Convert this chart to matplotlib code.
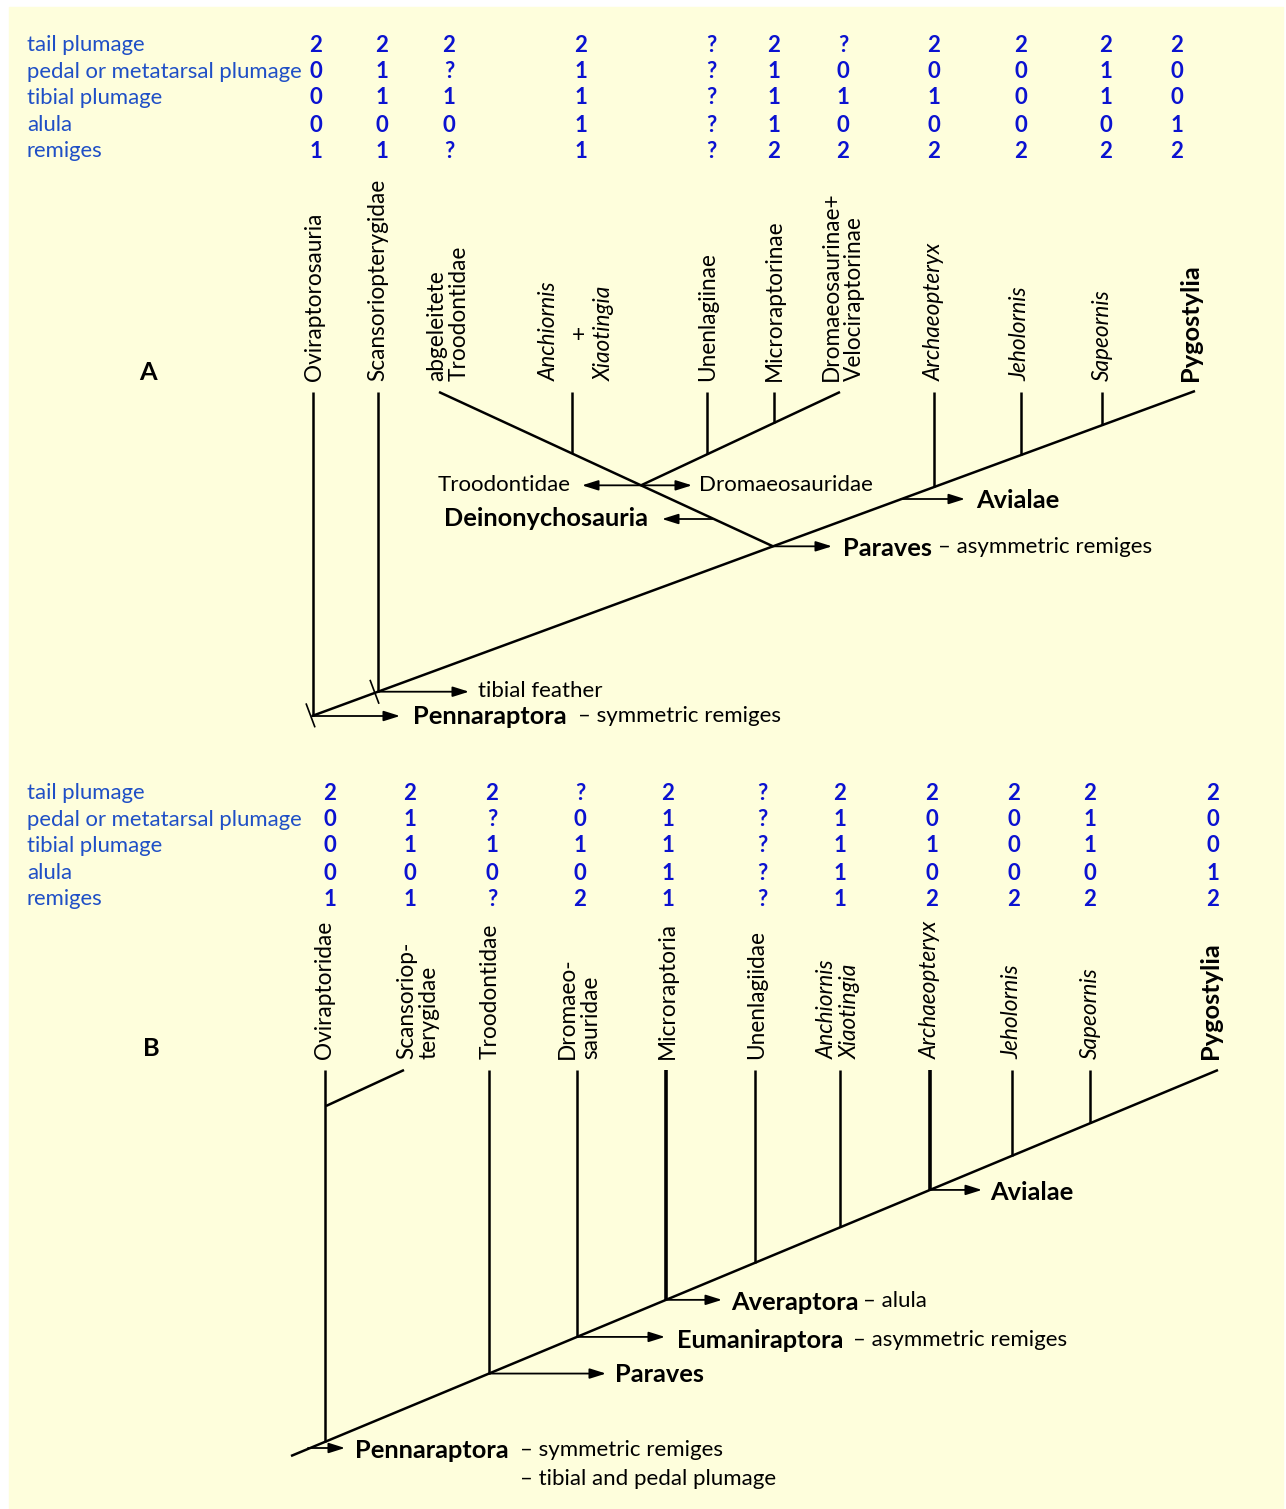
import matplotlib.pyplot as plt
from matplotlib.patches import Rectangle

plt.rcParams['font.family'] = ['Lato', 'DejaVu Sans']

chars = ['tail plumage', 'pedal or metatarsal plumage', 'tibial plumage', 'alula', 'remiges']

# panel A: coded states per terminal, one string per column (tail, pedal, tibial, alula, remiges)
states_a = ['20001', '21101', '2?10?', '21111', '?????', '21112',
            '?0102', '20102', '20002', '21102', '20012']
# panel B
states_b = ['20001', '21101', '2?10?', '?0102', '21111', '?????',
            '21111', '20102', '20002', '21102', '20012']

taxa_a = ['Oviraptorosauria', 'Scansoriopterygidae', 'abgeleitete\nTroodontidae',
          'Unenlagiinae', 'Microraptorinae', 'Dromaeosaurinae+\nVelociraptorinae',
          'Archaeopteryx', 'Jeholornis', 'Sapeornis', 'Pygostylia']
taxa_b = ['Oviraptoridae', 'Scansoriop-\nterygidae', 'Troodontidae', 'Dromaeo-\nsauridae',
          'Microraptoria', 'Unenlagiidae', 'Anchiornis\nXiaotingia', 'Archaeopteryx',
          'Jeholornis', 'Sapeornis', 'Pygostylia']
italic = {'Anchiornis', 'Xiaotingia', 'Archaeopteryx', 'Jeholornis', 'Sapeornis',
          'Anchiornis\nXiaotingia'}

# layout (pixels)
rows_a = [45, 72, 98, 125, 151]
rows_b = [793, 820, 846, 873, 899]
cols_a = [316, 382, 449, 581, 711, 774, 843, 934, 1021, 1106, 1177]
cols_b = [330, 410, 492, 580, 668, 762, 840, 932, 1014, 1090, 1213]
lab_x_a = [315, 378, 448, 708, 774, 843, 934, 1020, 1102, 1190]
lab_x_b = [325, 418, 490, 579, 667, 757, 839, 930, 1012, 1090, 1210]

LBL = '#1f4fc6'
NUM = '#0b12d0'
LW = 1.8
FT = 16.3     # taxon names
FS = 16.0     # plain text
FB = 18.3     # bold clade names


def y_at(p, q, x):
    return p[1] + (q[1] - p[1]) * (x - p[0]) / (q[0] - p[0])


def x_at(p, q, y):
    return p[0] + (q[0] - p[0]) * (y - p[1]) / (q[1] - p[1])


def line(ax, p, q, lw=LW):
    ax.plot([p[0], q[0]], [p[1], q[1]], color='black', lw=lw, solid_capstyle='butt')


def arrow(ax, p, x_end):
    ax.annotate('', xy=(x_end, p[1]), xytext=p,
                arrowprops=dict(arrowstyle='-|>,head_length=0.7,head_width=0.22',
                                color='black', lw=1.3, shrinkA=0, shrinkB=0,
                                mutation_scale=14))


def matrix(ax, rows, cols, states):
    for i, c in enumerate(chars):
        ax.text(27, rows[i], c, color=LBL, fontsize=15.9, va='center', ha='left')
        for j, s in enumerate(states):
            ax.text(cols[j], rows[i], s[i], color=NUM, fontsize=16, fontweight='bold',
                    va='center', ha='center')


def vlabel(ax, x, y, name, **kw):
    style = 'italic' if name in italic else 'normal'
    ax.text(x, y, name, rotation=90, ha='center', va='bottom', fontsize=FT,
            style=style, multialignment='left', linespacing=1.1, **kw)


fig = plt.figure(figsize=(12.86, 15.09), dpi=100)
ax = fig.add_axes([0, 0, 1, 1])
ax.set_xlim(0, 1286)
ax.set_ylim(1509, 0)
ax.axis('off')
ax.add_patch(Rectangle((9, 7), 1274, 1502, color='#fefedc', zorder=0))

# ---------------- A ----------------
matrix(ax, rows_a, cols_a, states_a)
ax.text(148, 372, 'A', fontsize=FB, fontweight='bold', ha='center', va='center')

for x, name in zip(lab_x_a, taxa_a):
    if name == 'Pygostylia':
        ax.text(x, 381, name, rotation=90, ha='center', va='bottom', fontsize=FB,
                fontweight='bold')
    else:
        vlabel(ax, x, 381, name)
ax.text(549, 381, 'Anchiornis', rotation=90, ha='center', va='bottom', fontsize=FT, style='italic')
ax.text(578, 335, '+', ha='center', va='center', fontsize=FT)
ax.text(604, 381, 'Xiaotingia', rotation=90, ha='center', va='bottom', fontsize=FT, style='italic')

top = 392
root_a = (312, 716)
end_a = (1195, 391)
line(ax, root_a, end_a)
for x in [313, 378, 934, 1021, 1102]:
    line(ax, (x, top), (x, y_at(root_a, end_a, x)))

paraves_a = (773, y_at(root_a, end_a, 773))
troo_end = (439, top)
line(ax, paraves_a, troo_end)
deino = (641, y_at(paraves_a, troo_end, 641))
dromo_end = (840, top)
line(ax, deino, dromo_end)
line(ax, (572, top), (572, y_at(paraves_a, troo_end, 572)))
for x in [707, 774]:
    line(ax, (x, top), (x, y_at(deino, dromo_end, x)))

# character ticks across the stem
for x in [311, 375]:
    y = y_at(root_a, end_a, x)
    line(ax, (x - 5, y - 13), (x + 4, y + 11), lw=1.2)

arrow(ax, deino, 582)
ax.text(571, deino[1], 'Troodontidae', ha='right', va='center', fontsize=FS)
arrow(ax, deino, 692)
ax.text(699, deino[1], 'Dromaeosauridae', ha='left', va='center', fontsize=FS)
arrow(ax, (x_at(paraves_a, troo_end, 519), 519), 662)
ax.text(648, 519, 'Deinonychosauria', ha='right', va='center', fontsize=FB, fontweight='bold')
arrow(ax, (x_at(root_a, end_a, 499), 499), 965)
ax.text(976, 501, 'Avialae', ha='left', va='center', fontsize=FB, fontweight='bold')
arrow(ax, paraves_a, 832)
ax.text(843, 548, 'Paraves', ha='left', va='center', fontsize=FB, fontweight='bold')
ax.text(938, 547, '– asymmetric remiges', ha='left', va='center', fontsize=FS)
arrow(ax, (378, y_at(root_a, end_a, 378)), 469)
ax.text(478, 691, 'tibial feather', ha='left', va='center', fontsize=FS)
arrow(ax, root_a, 400)
ax.text(413, 717, 'Pennaraptora', ha='left', va='center', fontsize=FB, fontweight='bold')
ax.text(578, 716, '– symmetric remiges', ha='left', va='center', fontsize=FS)

# ---------------- B ----------------
matrix(ax, rows_b, cols_b, states_b)
ax.text(151, 1049, 'B', fontsize=FB, fontweight='bold', ha='center', va='center')

for x, name in zip(lab_x_b, taxa_b):
    if name == 'Pygostylia':
        ax.text(x, 1059, name, rotation=90, ha='center', va='bottom', fontsize=FB,
                fontweight='bold')
    else:
        vlabel(ax, x, 1059, name)

top_b = 1070
root_b = (291, 1456)
end_b = (1218, 1070)
line(ax, root_b, end_b)
thick = {666, 930}
for x in [325, 489, 577, 666, 755, 840, 930, 1012, 1090]:
    line(ax, (x, top_b), (x, y_at(root_b, end_b, x)), lw=2.6 if x in thick else LW)
line(ax, (326, 1106), (404, top_b))

arrow(ax, (930, y_at(root_b, end_b, 930)), 982)
ax.text(990, 1192, 'Avialae', ha='left', va='center', fontsize=FB, fontweight='bold')
arrow(ax, (666, y_at(root_b, end_b, 666)), 722)
ax.text(731, 1302, 'Averaptora', ha='left', va='center', fontsize=FB, fontweight='bold')
ax.text(863, 1301, '– alula', ha='left', va='center', fontsize=FS)
arrow(ax, (577, y_at(root_b, end_b, 577)), 665)
ax.text(677, 1340, 'Eumaniraptora', ha='left', va='center', fontsize=FB, fontweight='bold')
ax.text(853, 1340, '– asymmetric remiges', ha='left', va='center', fontsize=FS)
arrow(ax, (489, y_at(root_b, end_b, 489)), 606)
ax.text(615, 1375, 'Paraves', ha='left', va='center', fontsize=FB, fontweight='bold')
arrow(ax, (308, 1448), 345)
ax.text(355, 1450, 'Pennaraptora', ha='left', va='center', fontsize=FB, fontweight='bold')
ax.text(520, 1450, '– symmetric remiges', ha='left', va='center', fontsize=FS)
ax.text(520, 1479, '– tibial and pedal plumage', ha='left', va='center', fontsize=FS)

fig.savefig('out.png', dpi=100)
